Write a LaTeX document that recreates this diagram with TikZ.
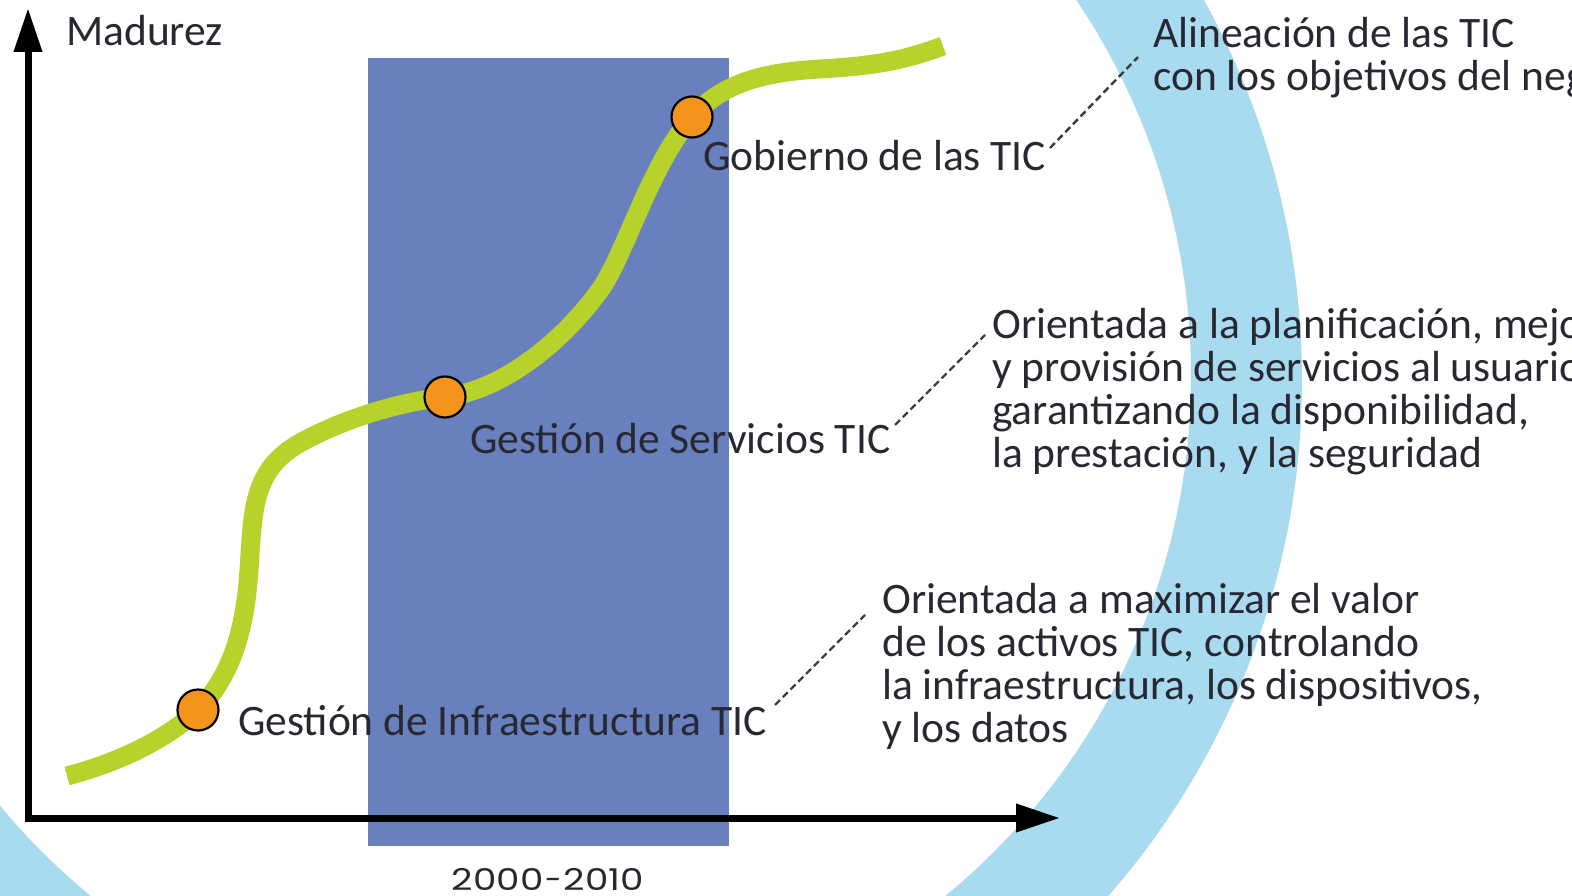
\documentclass[tikz,border=0pt]{standalone}
\usepackage{fontspec}
\setmainfont{Carlito}
\newfontfamily\yearfont{Poppins}
\usetikzlibrary{arrows.meta}
\definecolor{ringblue}{RGB}{169,219,240}
\definecolor{rectblue}{RGB}{104,128,189}
\definecolor{curvegreen}{RGB}{184,210,44}
\definecolor{dotorange}{RGB}{245,148,29}
\definecolor{txt}{RGB}{40,40,50}
\definecolor{dashc}{RGB}{60,60,66}
\begin{document}
\begin{tikzpicture}[x=1pt,y=-1pt,
  lbl/.style={anchor=base west, inner sep=0pt, font=\fontsize{43.5}{43}\selectfont, text=txt},
  dot/.style={circle, fill=dotorange, draw=black, line width=2.2pt, minimum size=41pt, inner sep=0pt},
  leader/.style={draw=dashc, line width=2.4pt, dash pattern=on 7pt off 4pt},
  axis/.style={line width=7pt, line join=miter, {Triangle[length=44pt,width=27pt]}-{Triangle[length=44pt,width=27pt]}}]
\useasboundingbox (0,0) rectangle (1572,896);
\clip (0,0) rectangle (1572,896);
% ring
\fill[ringblue, even odd rule] (518,380) circle[radius=784pt] (518,376) circle[radius=673pt];
% period band
\fill[rectblue] (368,58) rectangle (729,846);
% axes
\coordinate (ytip) at (28,8);
\coordinate (orig) at (28,818);
\coordinate (xtip) at (1060,818);
\draw[axis] (ytip) -- (orig) -- (xtip);
% curve
\draw[curvegreen, line width=19pt]
  (67,776) .. controls (120,762) and (165,740) .. (198,710)
  .. controls (232,675) and (245,630) .. (249,570)
  .. controls (253,510) and (252,470) .. (300,443)
  .. controls (345,418) and (400,402) .. (445,397)
  .. controls (500,391) and (560,345) .. (600,290)
  .. controls (625,255) and (650,165) .. (692,117)
  .. controls (725,80) and (770,72) .. (820,69)
  .. controls (870,66) and (900,62) .. (943,46);
% dots
\node[dot] (d1) at (198,710) {};
\node[dot] (d2) at (445,397) {};
\node[dot] (d3) at (692,117) {};
% labels
\node[lbl] (mad) at (66,46) {Madurez};
\node[lbl] (gob) at (703,171) {Gobierno de las TIC};
\node[lbl] (gserv) at (470,453) {Gestión de Servicios TIC};
\node[lbl] (ginf) at (238,735) {Gestión de Infraestructura TIC};
% descriptions
\node[lbl] (a1) at (1153,48) {Alineación de las TIC};
\node[lbl] (a2) at (1153,91) {con los objetivos del neg};
\node[lbl] (b1) at (992,338) {Orientada a la planificación, mejo};
\node[lbl] (b2) at (992,381) {y provisión de servicios al usuario};
\node[lbl] (b3) at (992,424) {garantizando la disponibilidad,};
\node[lbl] (b4) at (992,467) {la prestación, y la seguridad};
\node[lbl] (c1) at (882,613) {Orientada a maximizar el valor};
\node[lbl] (c2) at (882,656) {de los activos TIC, controlando};
\node[lbl] (c3) at (882,699) {la infraestructura, los dispositivos,};
\node[lbl] (c4) at (882,742) {y los datos};
% leaders
\coordinate (l1a) at (1050,148); \coordinate (l1b) at (1138,57);
\coordinate (l2a) at (895,425); \coordinate (l2b) at (985,335);
\coordinate (l3a) at (775,705); \coordinate (l3b) at (865,615);
\draw[leader] (l1a) -- (l1b);
\draw[leader] (l2a) -- (l2b);
\draw[leader] (l3a) -- (l3b);
% year
\node[anchor=base, inner sep=0pt, text=txt, font=\yearfont\fontsize{30}{32}\selectfont] (yr) at (548,890) {\scalebox{1.24}[1]{2000}\kern2pt-\kern2pt\scalebox{1.24}[1]{2010}};
\end{tikzpicture}
\end{document}
